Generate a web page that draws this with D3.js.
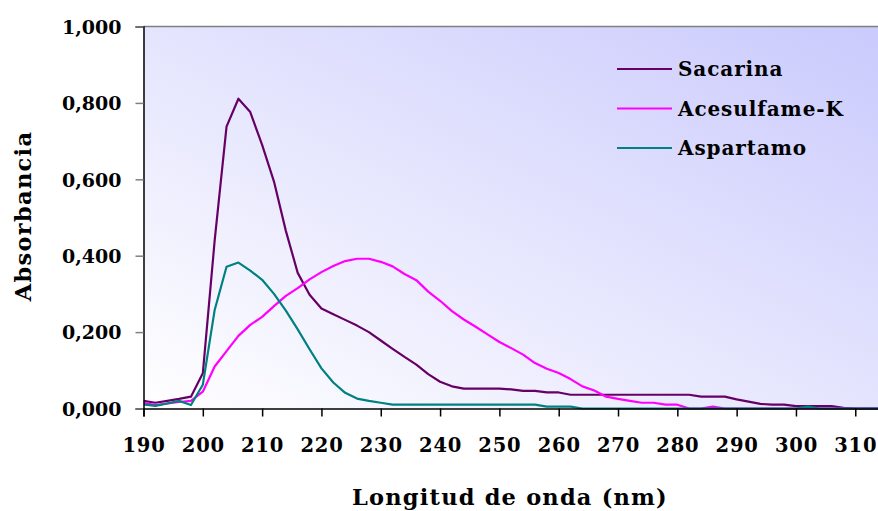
<!DOCTYPE html>
<html>
<head>
<meta charset="utf-8">
<script src="https://cdn.jsdelivr.net/npm/d3@7"></script>
<style>
  html, body { margin: 0; padding: 0; background: #ffffff; }
  svg { display: block; }
  text { font-family: "DejaVu Serif", "Liberation Serif", serif; font-weight: bold; fill: #000; }
</style>
</head>
<body>
<script>
// Wavelengths sampled every 2 nm
const wavelengths = d3.range(190, 315, 2);

const sacarina = [
  0.020, 0.015, 0.020, 0.025, 0.031, 0.092, 0.440, 0.738, 0.811, 0.776,
  0.690, 0.594, 0.465, 0.355, 0.298, 0.262, 0.247, 0.232, 0.217, 0.200,
  0.178, 0.156, 0.135, 0.115, 0.090, 0.070, 0.058, 0.052, 0.052, 0.052,
  0.052, 0.050, 0.046, 0.046, 0.042, 0.042, 0.036, 0.036, 0.036, 0.036,
  0.036, 0.036, 0.036, 0.036, 0.036, 0.036, 0.036, 0.031, 0.031, 0.031,
  0.024, 0.018, 0.012, 0.010, 0.010, 0.006, 0.006, 0.006, 0.006, 0.002,
  0.000, 0.000, 0.000
];

const acesulfame = [
  0.015, 0.009, 0.013, 0.017, 0.020, 0.044, 0.110, 0.150, 0.190, 0.219,
  0.240, 0.268, 0.295, 0.315, 0.338, 0.357, 0.373, 0.386, 0.392, 0.392,
  0.384, 0.372, 0.352, 0.336, 0.306, 0.282, 0.255, 0.233, 0.214, 0.194,
  0.174, 0.158, 0.141, 0.119, 0.104, 0.093, 0.077, 0.058, 0.047, 0.031,
  0.025, 0.020, 0.015, 0.015, 0.010, 0.010, 0.000, 0.000, 0.005, 0.000,
  0.000, 0.000, 0.000, 0.000, 0.000, 0.000, 0.000, 0.000, 0.000, 0.000,
  0.000, 0.000, 0.000
];

const aspartamo = [
  0.011, 0.007, 0.013, 0.020, 0.009, 0.062, 0.258, 0.371, 0.382, 0.361,
  0.337, 0.300, 0.256, 0.207, 0.155, 0.105, 0.068, 0.041, 0.026, 0.020,
  0.015, 0.010, 0.010, 0.010, 0.010, 0.010, 0.010, 0.010, 0.010, 0.010,
  0.010, 0.010, 0.010, 0.010, 0.005, 0.005, 0.005, 0.000, 0.000, 0.000,
  0.000, 0.000, 0.000, 0.000, 0.000, 0.000, 0.000, 0.000, 0.000, 0.000,
  0.000, 0.000, 0.000, 0.000, 0.000, 0.000, 0.005, 0.000, 0.000, 0.000,
  0.000, 0.000, 0.000
];

const seriesNames = ["Sacarina", "Acesulfame-K", "Aspartamo"];
const seriesColors = ["#660066", "#ff00ff", "#008080"];
const seriesValues = [sacarina, acesulfame, aspartamo];

const xTicks = d3.range(190, 311, 10);
const yTicks = [0, 0.2, 0.4, 0.6, 0.8, 1.0];

const W = 878, H = 511;
const plot = { left: 143.5, top: 26.5, right: 879, bottom: 408.5 };

const svg = d3.select("body").append("svg")
  .attr("width", W).attr("height", H);

const defs = svg.append("defs");
const grad = defs.append("linearGradient")
  .attr("id", "plotBg")
  .attr("x1", "0").attr("y1", "1").attr("x2", "1").attr("y2", "0");
grad.append("stop").attr("offset", "0").attr("stop-color", "#ffffff");
grad.append("stop").attr("offset", "1").attr("stop-color", "#cacafd");

defs.append("clipPath").attr("id", "plotClip")
  .append("rect")
  .attr("x", plot.left).attr("y", plot.top - 3)
  .attr("width", W - plot.left).attr("height", plot.bottom - plot.top + 6);

const x = d3.scaleLinear().domain([190, 314]).range([plot.left, plot.right]);
const y = d3.scaleLinear().domain([0, 1]).range([plot.bottom, plot.top]);

// plot area background
svg.append("rect")
  .attr("x", plot.left).attr("y", plot.top)
  .attr("width", W - plot.left).attr("height", plot.bottom - plot.top)
  .attr("fill", "url(#plotBg)");

// top border of plot area
svg.append("line")
  .attr("x1", plot.left).attr("x2", W)
  .attr("y1", plot.top).attr("y2", plot.top)
  .attr("stroke", "#808080").attr("stroke-width", 1.5);

// series
const line = d3.line()
  .x((d, i) => x(wavelengths[i]))
  .y(d => y(d));

const lines = svg.append("g").attr("clip-path", "url(#plotClip)");
seriesValues.forEach((vals, k) => {
  lines.append("path")
    .datum(vals)
    .attr("d", line)
    .attr("fill", "none")
    .attr("stroke", seriesColors[k])
    .attr("stroke-width", 2.2)
    .attr("stroke-linejoin", "round");
});

// y axis
const fmt = v => d3.format(".3f")(v).replace(".", ",");
const yAxis = svg.append("g")
  .attr("transform", `translate(${plot.left},0)`)
  .call(d3.axisLeft(y).tickValues(yTicks).tickSize(8).tickPadding(14).tickFormat(fmt));
yAxis.select(".domain").attr("stroke", "#000").attr("stroke-width", 1.5);
yAxis.selectAll(".tick line").attr("stroke", "#808080").attr("stroke-width", 1.5);
yAxis.selectAll(".tick text")
  .style("font-family", '"DejaVu Serif", serif')
  .style("font-weight", "bold")
  .attr("font-size", 19)
  .attr("dy", "0.36em");

// x axis
const xAxis = svg.append("g")
  .attr("transform", `translate(0,${plot.bottom})`)
  .call(d3.axisBottom(x).tickValues(xTicks).tickSize(8).tickPadding(22).tickFormat(d3.format("d")));
xAxis.select(".domain").attr("stroke", "#000").attr("stroke-width", 1.5);
xAxis.selectAll(".tick line").attr("stroke", "#000").attr("stroke-width", 1.5);
xAxis.selectAll(".tick text")
  .style("font-family", '"DejaVu Serif", serif')
  .style("font-weight", "bold")
  .style("letter-spacing", "0.8px")
  .attr("font-size", 19.5);

// axis titles
svg.append("text")
  .attr("x", 510).attr("y", 505)
  .attr("text-anchor", "middle")
  .attr("font-size", 22.5)
  .style("letter-spacing", "1.2px")
  .text("Longitud de onda (nm)");

svg.append("text")
  .attr("transform", "translate(31,216) rotate(-90)")
  .attr("text-anchor", "middle")
  .attr("font-size", 22.5)
  .style("letter-spacing", "1.3px")
  .text("Absorbancia");

// legend
const legend = svg.append("g");
seriesNames.forEach((name, k) => {
  const ly = 69 + k * 39.5;
  legend.append("line")
    .attr("x1", 617).attr("x2", 672)
    .attr("y1", ly).attr("y2", ly)
    .attr("stroke", seriesColors[k]).attr("stroke-width", 2.2);
  legend.append("text")
    .attr("x", 678).attr("y", ly)
    .attr("dy", "0.36em")
    .attr("font-size", 20)
    .style("letter-spacing", "0.9px")
    .text(name);
});
</script>
</body>
</html>
